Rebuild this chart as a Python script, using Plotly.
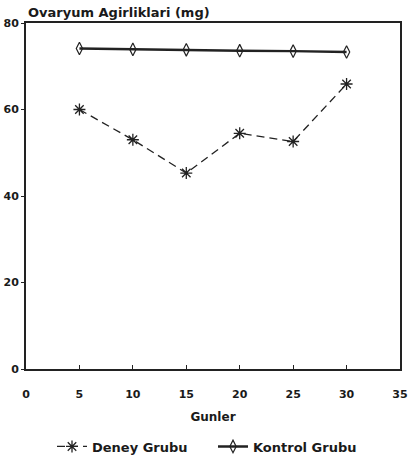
import plotly.graph_objects as go

gunler = [5, 10, 15, 20, 25, 30]
deney = [60.0, 53.0, 45.3, 54.5, 52.6, 65.9]
kontrol = [74.1, 73.9, 73.8, 73.6, 73.5, 73.3]
x_ticks = [0, 5, 10, 15, 20, 25, 30, 35]
y_ticks = [0, 20, 40, 60, 80]

FAM = "DejaVu Sans, Verdana, sans-serif"
INK = "#1a1a1a"

fig = go.Figure()
fig.add_trace(go.Scatter(
    x=gunler, y=deney, name="<b>Deney Grubu</b>", mode="lines+markers",
    line=dict(color="#222", width=1.3, dash="8px,5px"),
    marker=dict(symbol="asterisk-open", size=10, color="#222", line=dict(width=1.3, color="#222")),
))
fig.add_trace(go.Scatter(
    x=gunler, y=kontrol, name="<b>Kontrol Grubu</b>", mode="lines+markers",
    line=dict(color="#222", width=2.4),
    marker=dict(symbol="diamond-tall-open", size=9, color="#222", line=dict(width=1.2, color="#222")),
))

fig.update_layout(
    width=409, height=470,
    margin=dict(l=26, r=9, t=23, b=95),
    paper_bgcolor="white", plot_bgcolor="white",
    font=dict(family=FAM, size=11, color=INK),
    showlegend=True,
    legend=dict(orientation="h", x=0.5, xanchor="center", y=-0.224, yanchor="middle",
                font=dict(size=13, family=FAM, color=INK),
                entrywidth=116, entrywidthmode="pixels"),
    annotations=[dict(text="<b>Ovaryum Agirliklari (mg)</b>", xref="paper", yref="paper",
                      x=0.0, y=1.0, xanchor="left", yanchor="middle", showarrow=False,
                      font=dict(size=13, family=FAM, color=INK),
                      yshift=11)],
)
fig.update_xaxes(
    range=[0, 35], tickvals=x_ticks, ticktext=[f"<b>{t}</b>" for t in x_ticks],
    ticks="inside", ticklen=4, tickcolor="#222", tickwidth=1.2,
    ticklabelstandoff=14,
    showline=True, linecolor="#222", linewidth=2, mirror=True,
    showgrid=False, zeroline=False, automargin=False,
    title=dict(text="<b>Gunler</b>", standoff=12, font=dict(size=12)),
)
fig.update_yaxes(
    range=[0, 80], tickvals=y_ticks, ticktext=[f"<b>{t}</b>" for t in y_ticks],
    ticks="outside", ticklen=3, tickcolor="#222", tickwidth=1.2,
    showline=True, linecolor="#222", linewidth=2, mirror=True,
    showgrid=False, zeroline=False, automargin=False,
)
# remove the default 8px page margin so the figure fills the window exactly
fig.write_html("out.html", config={"displayModeBar": False},
               post_script="document.body.style.margin='0';")
